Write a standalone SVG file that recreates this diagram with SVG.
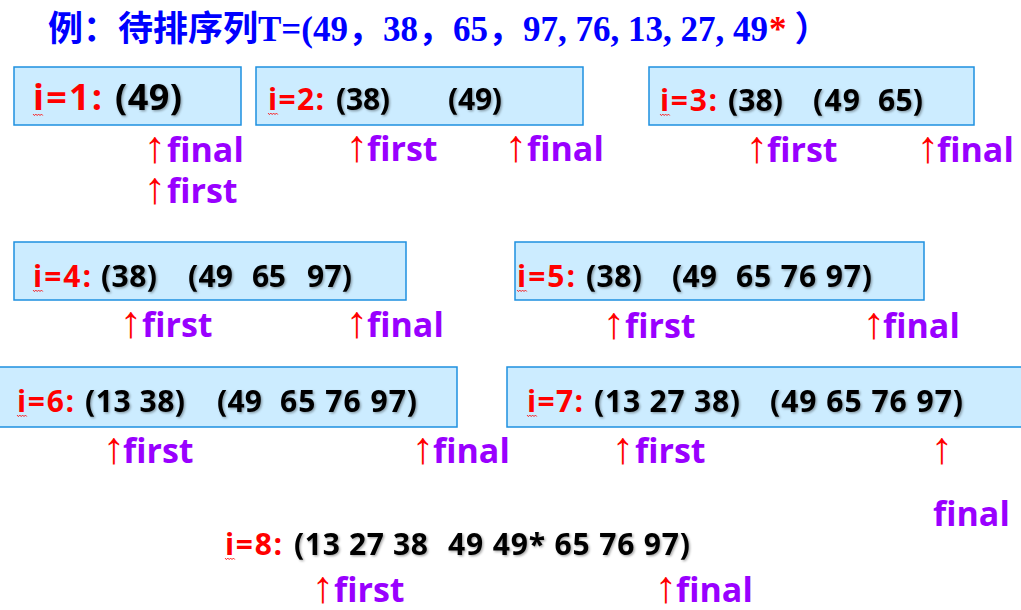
<svg xmlns="http://www.w3.org/2000/svg" width="1021" height="610" viewBox="0 0 1021 610">
<defs>
<filter id="sh" x="-5%" y="-20%" width="110%" height="140%">
<feDropShadow dx="1.3" dy="1.3" stdDeviation="0.9" flood-color="#000" flood-opacity="0.35"/>
</filter>
<path id="wavy" d="M0,0 l1.4,1.6 l1.4,-1.6 l1.4,1.6 l1.4,-1.6 l1.4,1.6 l1.4,-1.6 l1.4,1.6" fill="none" stroke="#FF0000" stroke-width="0.8"/>
</defs>
<style>
.box{fill:#CCECFF;stroke:#1E90E0;stroke-width:1.5}
.lab,.val{font-family:"Open Sans","Noto Sans","DejaVu Sans",sans-serif;font-weight:bold;font-size:30px}
.big{font-size:36px}
.lab{fill:#FF0000}
.val{fill:#000;filter:url(#sh)}
.ptr{font-family:"Open Sans","Noto Sans","DejaVu Sans",sans-serif;font-weight:bold;font-size:34px;fill:#9900FF}
.ar{fill:#FF0000;font-family:"Liberation Sans","DejaVu Sans",sans-serif;font-weight:normal;font-size:45px;text-anchor:middle}
.title{font-family:"Liberation Serif","Noto Sans CJK SC",serif;font-weight:bold;font-size:35px;fill:#0000FF}
</style>
<rect width="1021" height="610" fill="#fff"/>
<g id="title">
<text class="title" x="48" y="41">例：待排序列T=(49，38，65，97, 76, 13, 27, 49<tspan fill="#FF0000" dx="1">*</tspan><tspan dx="8">）</tspan></text>
</g>
<g id="step1">
<rect class="box" x="14" y="67" width="227" height="58"/>
<text class="lab big" x="33" y="110" textLength="69" lengthAdjust="spacing">i=1:</text>
<text class="val big" x="115" y="110" textLength="67" lengthAdjust="spacing">(49)</text>
<use href="#wavy" x="33" y="114"/>
<text class="ar" x="155" y="162">↑</text><text class="ptr" x="167" y="162">final</text>
<text class="ar" x="155" y="203">↑</text><text class="ptr" x="167" y="203">first</text>
</g>
<g id="step2">
<rect class="box" x="256" y="67" width="327" height="58"/>
<text class="lab" x="268" y="110" textLength="56" lengthAdjust="spacing">i=2:</text>
<text class="val" x="336" y="110" textLength="54" lengthAdjust="spacing">(38)</text>
<text class="val" x="448" y="110" textLength="54" lengthAdjust="spacing">(49)</text>
<use href="#wavy" x="268" y="113"/>
<text class="ar" x="357" y="161">↑</text><text class="ptr" x="367" y="161">first</text>
<text class="ar" x="516" y="161">↑</text><text class="ptr" x="527" y="161">final</text>
</g>
<g id="step3">
<rect class="box" x="649" y="67" width="325" height="58"/>
<text class="lab" x="660" y="111" textLength="57" lengthAdjust="spacing">i=3:</text>
<text class="val" x="728" y="111" textLength="55" lengthAdjust="spacing">(38)</text>
<text class="val" x="813" y="111" textLength="47" lengthAdjust="spacing">(49</text>
<text class="val" x="878" y="111" textLength="45" lengthAdjust="spacing">65)</text>
<use href="#wavy" x="660" y="114"/>
<text class="ar" x="757" y="162">↑</text><text class="ptr" x="767" y="162">first</text>
<text class="ar" x="928" y="162">↑</text><text class="ptr" x="937" y="162">final</text>
</g>
<g id="step4">
<rect class="box" x="14" y="242" width="392" height="58"/>
<text class="lab" x="33" y="287" textLength="58" lengthAdjust="spacing">i=4:</text>
<text class="val" x="101" y="287" textLength="56" lengthAdjust="spacing">(38)</text>
<text class="val" x="188" y="287" textLength="45" lengthAdjust="spacing">(49</text>
<text class="val" x="252" y="287" textLength="34" lengthAdjust="spacing">65</text>
<text class="val" x="307" y="287" textLength="45" lengthAdjust="spacing">97)</text>
<use href="#wavy" x="33" y="290"/>
<text class="ar" x="131" y="337">↑</text><text class="ptr" x="142" y="337">first</text>
<text class="ar" x="357" y="337">↑</text><text class="ptr" x="367" y="337">final</text>
</g>
<g id="step5">
<rect class="box" x="515" y="242" width="409" height="58"/>
<text class="lab" x="517" y="287" textLength="58" lengthAdjust="spacing">i=5:</text>
<text class="val" x="586" y="287" textLength="56" lengthAdjust="spacing">(38)</text>
<text class="val" x="672" y="287" textLength="45" lengthAdjust="spacing">(49</text>
<text class="val" x="736" y="287" textLength="136" lengthAdjust="spacing">65 76 97)</text>
<use href="#wavy" x="517" y="290"/>
<text class="ar" x="614" y="338">↑</text><text class="ptr" x="625" y="338">first</text>
<text class="ar" x="874" y="338">↑</text><text class="ptr" x="883" y="338">final</text>
</g>
<g id="step6">
<rect class="box" x="-1" y="367" width="458" height="60"/>
<text class="lab" x="17" y="412" textLength="57" lengthAdjust="spacing">i=6:</text>
<text class="val" x="85" y="412" textLength="100" lengthAdjust="spacing">(13 38)</text>
<text class="val" x="217" y="412" textLength="45" lengthAdjust="spacing">(49</text>
<text class="val" x="280" y="412" textLength="137" lengthAdjust="spacing">65 76 97)</text>
<use href="#wavy" x="17" y="415"/>
<text class="ar" x="114" y="463">↑</text><text class="ptr" x="123" y="463">first</text>
<text class="ar" x="423" y="463">↑</text><text class="ptr" x="433" y="463">final</text>
</g>
<g id="step7">
<rect class="box" x="507" y="367" width="520" height="60"/>
<text class="lab" x="527" y="412" textLength="56" lengthAdjust="spacing">i=7:</text>
<text class="val" x="594" y="412" textLength="146" lengthAdjust="spacing">(13 27 38)</text>
<text class="val" x="770" y="412" textLength="193" lengthAdjust="spacing">(49 65 76 97)</text>
<use href="#wavy" x="527" y="415"/>
<text class="ar" x="623" y="463">↑</text><text class="ptr" x="635" y="463">first</text>
<text class="ar" x="942" y="463">↑</text>
<text class="ptr" x="933" y="526">final</text>
</g>
<g id="step8">
<text class="lab" x="225" y="555" textLength="57" lengthAdjust="spacing">i=8:</text>
<text class="val" x="294" y="555" textLength="134" lengthAdjust="spacing">(13 27 38</text>
<text class="val" x="448" y="555" textLength="242" lengthAdjust="spacing">49 49* 65 76 97)</text>
<use href="#wavy" x="225" y="558"/>
<text class="ar" x="323" y="602">↑</text><text class="ptr" x="334" y="602">first</text>
<text class="ar" x="666" y="602">↑</text><text class="ptr" x="676" y="602">final</text>
</g>
<g id="connectors"/>
</svg>
